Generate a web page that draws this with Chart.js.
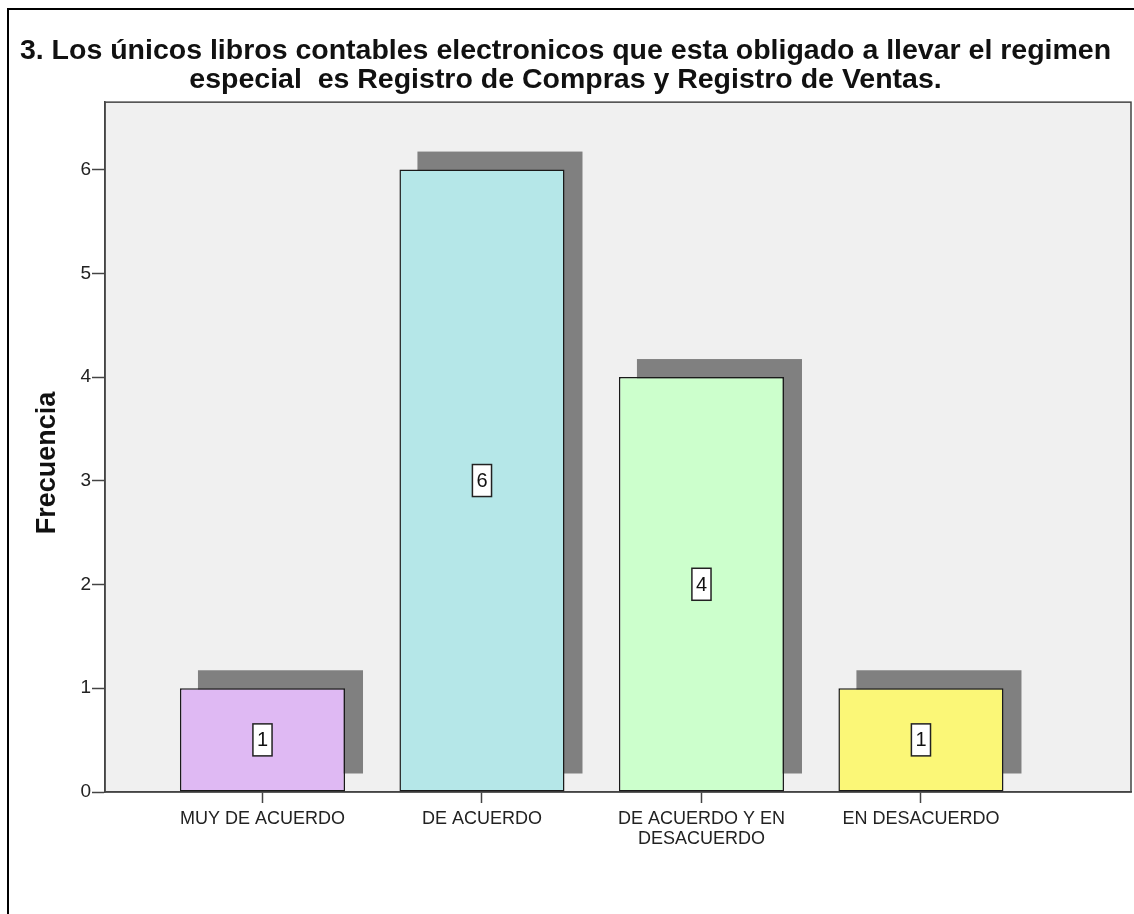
<!DOCTYPE html>
<html>
<head>
<meta charset="utf-8">
<script src="https://cdn.jsdelivr.net/npm/chart.js@4/dist/chart.umd.min.js"></script>
<style>
  html, body { margin: 0; padding: 0; background: #fff; }
  #wrap { width: 1134px; height: 914px; position: relative; }
</style>
</head>
<body>
<div id="wrap"><canvas id="freqChart"></canvas></div>
<script>
// data
const categories = [
  "MUY DE ACUERDO",
  "DE ACUERDO",
  ["DE ACUERDO Y EN", "DESACUERDO"],
  "EN DESACUERDO",
];
const frecuencia = [1, 6, 4, 1];
const barColors = ["#DFB9F3", "#B5E7E8", "#CCFFCC", "#FBF777"];
const yTicks = [0, 1, 2, 3, 4, 5, 6];
const yTitle = "Frecuencia";
const titleLines = [
  "3. Los únicos libros contables electronicos que esta obligado a llevar el regimen",
  "especial  es Registro de Compras y Registro de Ventas.",
];

const FONT = "'Liberation Sans', Arial, sans-serif";

// page frame + grey plot box + y axis title (SPSS puts it a bit below centre)
const backdrop = {
  id: "backdrop",
  beforeDraw(chart) {
    const { ctx, chartArea: a } = chart;
    ctx.save();
    ctx.fillStyle = "#fff";
    ctx.fillRect(0, 0, chart.width, chart.height);
    ctx.strokeStyle = "#000";
    ctx.lineWidth = 2;
    ctx.beginPath();
    ctx.moveTo(8, chart.height);
    ctx.lineTo(8, 9);
    ctx.lineTo(chart.width, 9);
    ctx.stroke();
    ctx.fillStyle = "#F0F0F0";
    ctx.fillRect(a.left, a.top, a.right - a.left, a.bottom - a.top);
    ctx.strokeStyle = "#444";
    ctx.lineWidth = 1.5;
    ctx.strokeRect(a.left, a.top, a.right - a.left, a.bottom - a.top);

    ctx.translate(48, 463);
    ctx.rotate(-Math.PI / 2);
    ctx.font = "bold 27px " + FONT;
    ctx.fillStyle = "#111";
    ctx.textAlign = "center";
    ctx.textBaseline = "middle";
    ctx.fillText(yTitle, 0, 0);
    ctx.restore();
  },
};

// drop shadow behind each bar, shifted right and up
const barShadow = {
  id: "barShadow",
  beforeDatasetsDraw(chart) {
    const { ctx } = chart;
    const meta = chart.getDatasetMeta(0);
    ctx.save();
    ctx.fillStyle = "#808080";
    meta.data.forEach((bar) => {
      const w = bar.width;
      ctx.fillRect(bar.x - w / 2 + 18, bar.y - 18, w, bar.base - bar.y);
    });
    ctx.restore();
  },
};

// boxed value labels in the middle of the bars
const valueBoxes = {
  id: "valueBoxes",
  afterDatasetsDraw(chart) {
    const { ctx } = chart;
    const meta = chart.getDatasetMeta(0);
    ctx.save();
    ctx.font = "20px " + FONT;
    ctx.textAlign = "center";
    ctx.textBaseline = "middle";
    meta.data.forEach((bar, i) => {
      const txt = String(frecuencia[i]);
      const cy = (bar.y + bar.base) / 2;
      const w = ctx.measureText(txt).width + 8;
      const h = 32;
      ctx.fillStyle = "#fff";
      ctx.fillRect(bar.x - w / 2, cy - h / 2, w, h);
      ctx.strokeStyle = "#222";
      ctx.lineWidth = 1.5;
      ctx.strokeRect(bar.x - w / 2, cy - h / 2, w, h);
      ctx.fillStyle = "#111";
      ctx.fillText(txt, bar.x, cy + 1);
    });
    ctx.restore();
  },
};

new Chart(document.getElementById("freqChart"), {
  type: "bar",
  data: {
    datasets: [
      {
        label: yTitle,
        data: frecuencia.map((v, i) => ({ x: i, y: v })),
        backgroundColor: barColors,
        borderColor: "#1a1a1a",
        borderWidth: 1.5,
        borderSkipped: false,
        barPercentage: 0.752,
        categoryPercentage: 1,
      },
    ],
  },
  options: {
    responsive: true,
    maintainAspectRatio: false,
    animation: false,
    layout: { padding: { left: 0, right: 3, top: 0, bottom: 0 } },
    plugins: {
      legend: { display: false },
      tooltip: { enabled: false },
      title: {
        display: true,
        text: titleLines,
        color: "#111",
        font: { family: FONT, size: 28.5, weight: "bold", lineHeight: 1.02 },
        padding: { top: 37, bottom: 7 },
      },
    },
    scales: {
      x: {
        type: "linear",
        offset: false,
        min: -0.7175,
        max: 3.957,
        afterBuildTicks: (scale) => {
          scale.ticks = categories.map((c, i) => ({ value: i }));
        },
        afterFit: (scale) => {
          scale.height = 914 - 792;
        },
        ticks: {
          autoSkip: false,
          maxRotation: 0,
          padding: 6,
          color: "#222",
          font: { family: FONT, size: 18, lineHeight: 1.1 },
          callback: (v) => categories[v],
        },
        grid: {
          offset: false,
          drawOnChartArea: false,
          tickLength: 11,
          tickColor: "#444",
          tickWidth: 1.5,
        },
        border: { color: "#444", width: 1.5 },
      },
      y: {
        min: 0,
        max: 6.65,
        afterBuildTicks: (scale) => {
          scale.ticks = yTicks.map((v) => ({ value: v }));
        },
        afterFit: (scale) => {
          scale.width = 105;
        },
        ticks: {
          padding: 1,
          color: "#222",
          font: { family: FONT, size: 19 },
        },
        grid: {
          drawOnChartArea: false,
          tickLength: 13,
          tickColor: "#444",
          tickWidth: 1.5,
        },
        border: { color: "#444", width: 1.5 },
      },
    },
  },
  plugins: [backdrop, barShadow, valueBoxes],
});
</script>
</body>
</html>
